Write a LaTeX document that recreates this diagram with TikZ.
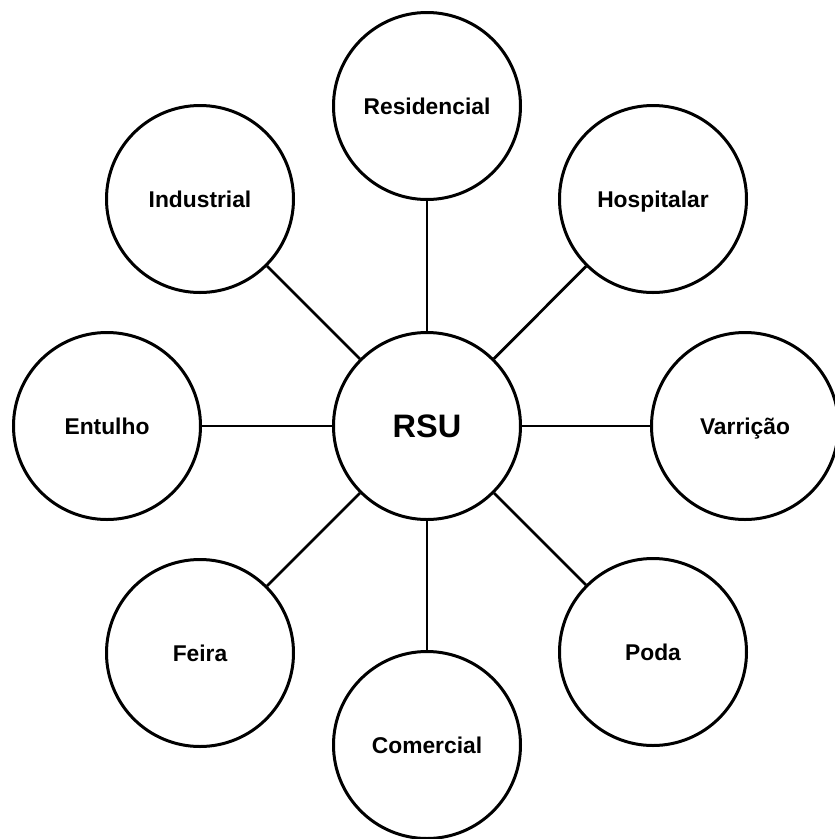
\documentclass[tikz,border=0pt]{standalone}
\usepackage{fontspec}
\setmainfont{Liberation Sans}
\begin{document}
\begin{tikzpicture}[x=1pt,y=-1pt,
  cat/.style={circle,draw=black,line width=3pt,minimum size=187pt,inner sep=0pt,
    text height=16.3pt,text depth=0pt,
    font=\fontsize{22.8}{26}\selectfont\bfseries},
  hub/.style={cat,text height=23.3pt,font=\fontsize{32.5}{38}\selectfont\bfseries},
  link/.style={line width=2.8pt,black}]
\useasboundingbox (0,0) rectangle (835,839);
\node[hub] (rsu) at (427,426) {RSU};
\node[cat] (res) at (427,106) {Residencial};
\node[cat] (com) at (427,745) {Comercial};
\node[cat] (ent) at (107,426) {Entulho};
\node[cat] (var) at (745,426) {Varrição};
\node[cat] (ind) at (200,199) {Industrial};
\node[cat] (hos) at (653,199) {Hospitalar};
\node[cat] (fei) at (200,653) {Feira};
\node[cat] (pod) at (653,652) {Poda};
\foreach \n in {res,com,ent,var,ind,hos,fei,pod}
  \draw[link] (rsu) -- (\n);
\end{tikzpicture}
\end{document}
